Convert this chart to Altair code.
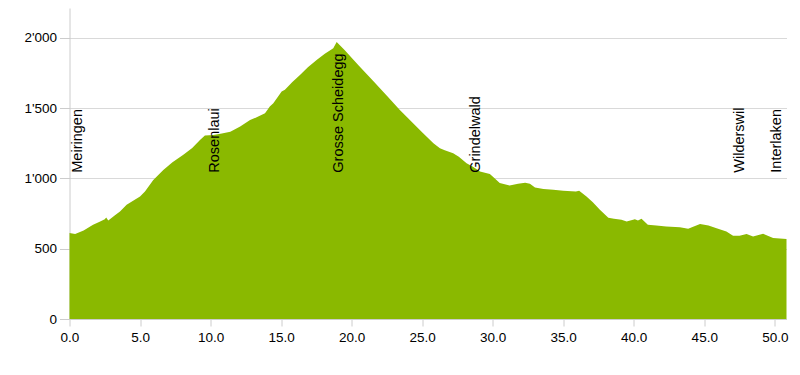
import altair as alt
import pandas as pd

# Elevation profile (km, m)
km = [0.0, 0.4, 1.0, 1.67, 2.1, 2.5, 2.6, 2.75, 3.2, 3.58, 4.05, 5.0, 5.35, 5.94,
      6.65, 7.3, 8.07, 8.7, 9.25, 9.6, 10.2, 10.8, 11.4, 12.1, 12.8, 13.27, 13.86,
      14.2, 14.45, 15.04, 15.27, 15.8, 16.34, 16.9, 17.52, 18.1, 18.7, 18.94,
      19.5, 20.5, 21.5, 22.5, 23.42, 24.13, 25.07, 25.8, 26.26, 26.6, 27.2, 27.6,
      28.15, 28.6, 29.1, 29.45, 29.8, 30.0, 30.5, 31.2, 31.8, 32.3, 32.64, 33.0,
      33.6, 34.3, 35.0, 35.9, 36.13, 36.65, 37.1, 37.6, 38.2, 38.6, 39.13, 39.5,
      40.08, 40.3, 40.55, 41.0, 41.6, 42.3, 43.27, 43.86, 44.3, 44.7, 45.3, 45.87,
      46.57, 47.04, 47.5, 48.0, 48.46, 49.17, 49.5, 49.88, 50.83]
elev = [611, 605, 630, 670, 690, 710, 722, 700, 735, 764, 812, 871, 906, 989,
        1060, 1115, 1167, 1215, 1273, 1304, 1309, 1318, 1332, 1368, 1415, 1434, 1463,
        1510, 1534, 1617, 1629, 1685, 1735, 1790, 1842, 1885, 1925, 1970,
        1912, 1803, 1695, 1587, 1486, 1415, 1321, 1250, 1214, 1199, 1179, 1153,
        1108, 1082, 1048, 1040, 1030, 1013, 966, 949, 961, 968, 961, 935,
        925, 918, 912, 906, 911, 871, 830, 776, 720, 712, 705, 693,
        710, 700, 712, 670, 665, 658, 653, 641, 660, 675, 665, 646,
        622, 592, 592, 604, 587, 606, 592, 575, 568]

# Place labels
places = ["Meiringen", "Rosenlaui", "Grosse Scheidegg", "Grindelwald", "Wilderswil", "Interlaken"]
place_km = [0.12, 9.85, 18.59, 28.35, 47.01, 49.66]
place_elev = [1040, 1040, 1040, 1040, 1040, 1040]

profile = pd.DataFrame({"km": km, "elev": elev})
labels = pd.DataFrame({"place": places, "km": place_km, "elev": place_elev})

FONT = "Liberation Sans"

x_scale = alt.Scale(domain=[0, 50.83], nice=False, zero=False)
y_scale = alt.Scale(domain=[0, 2211], nice=False)

area = alt.Chart(profile).mark_area(color="#8ab900", interpolate="linear").encode(
    x=alt.X("km:Q", scale=x_scale,
            axis=alt.Axis(title=None, values=[0, 5, 10, 15, 20, 25, 30, 35, 40, 45, 50],
                          format=".1f", grid=False, domainColor="#cccccc",
                          tickColor="#cccccc", tickSize=7, labelPadding=4,
                          labelFlush=False, labelOverlap=False,
                          labelFontSize=13.5, labelColor="#000000", labelFont=FONT)),
    y=alt.Y("elev:Q", scale=y_scale,
            axis=alt.Axis(title=None, values=[0, 500, 1000, 1500, 2000],
                          labelExpr="replace(format(datum.value, ','), ',', \"'\")",
                          grid=True, gridColor="#d9d9d9", domainColor="#cccccc",
                          tickColor="#cccccc", tickSize=10, labelPadding=3,
                          labelFlush=False,
                          labelFontSize=13.5, labelColor="#000000", labelFont=FONT)),
)

text = alt.Chart(labels).mark_text(
    angle=270, align="left", baseline="top", fontSize=14.5, font=FONT, color="#000000"
).encode(
    x=alt.X("km:Q", scale=x_scale),
    y=alt.Y("elev:Q", scale=y_scale),
    text="place:N",
)

chart = alt.layer(area, text).properties(
    width=717, height=311,
    autosize=alt.AutoSizeParams(type="none"),
    padding={"left": 61.5, "top": 0, "right": 5, "bottom": 40},
).configure_view(stroke=None)

chart.save("out.html", embed_options={"renderer": "svg", "actions": False})
